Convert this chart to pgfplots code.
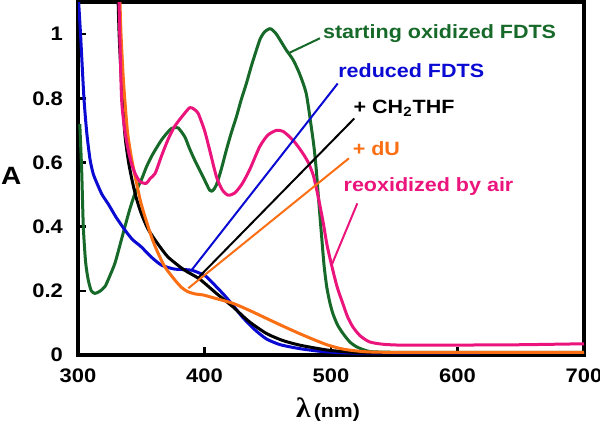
\documentclass[border=0pt]{standalone}
\usepackage{pgfplots}
\pgfplotsset{compat=1.18}
\usepackage{fontspec}
\setmainfont{Liberation Sans}[FakeStretch=1.12]
\newfontfamily\serifgr{Liberation Serif}[FakeStretch=1.05]
\definecolor{cgreen}{RGB}{22,105,40}
\definecolor{cblue}{RGB}{10,10,210}
\definecolor{corange}{RGB}{250,110,20}
\definecolor{cpink}{RGB}{235,20,125}
\begin{document}
\begin{tikzpicture}
\path[use as bounding box] (0,0) rectangle (300pt,212pt);
\begin{axis}[
  at={(39pt,34.5pt)}, anchor=south west,
  scale only axis, width=253pt, height=176.5pt,
  xmin=300, xmax=700, ymin=0, ymax=1.1,
  xtick={300,400,500,600,700},
  ytick={0,0.2,0.4,0.6,0.8,1},
  tick pos=left, tick align=inside,
  major tick length=4pt,
  tick style={line width=1.3pt, black},
  axis line style={line width=1.6pt},
  /pgf/number format/assume math mode=true,
  ticklabel style={font=\bfseries\fontsize{9.8}{11}\selectfont},
  xticklabel style={yshift=-3.5pt},
  yticklabel style={xshift=-4pt},
  xlabel={{\serifgr\bfseries\fontsize{14}{14}\selectfont λ}\,{\bfseries\fontsize{9.5}{10}\selectfont(nm)}},
  xlabel style={at={(axis description cs:0.494,-0.178)}, anchor=base, inner sep=0pt},
  ylabel={\bfseries\fontsize{12.5}{12.5}\selectfont A},
  ylabel style={at={(axis description cs:-0.132,0.507)}, anchor=center, rotate=-90},
  every axis plot/.append style={line width=1.5pt, line join=round},
]
% starting oxidized FDTS
\addplot[cgreen, smooth, tension=0.4] coordinates {
(301.4,0.72) (302.9,0.576) (304.2,0.40) (306,0.29) (308.1,0.234) (310.5,0.2) (313.4,0.192) (317,0.198) (321.3,0.213) (325,0.245) (329.2,0.286) (333,0.34) (337.1,0.40) (341,0.455) (345,0.503) (350,0.545) (354,0.585) (358,0.618) (362,0.645) (366,0.67) (370,0.69) (374,0.706) (379,0.708) (384.4,0.68) (388,0.645) (392.3,0.607) (398.9,0.555) (404,0.514) (406.5,0.512) (409.4,0.53) (413,0.575) (417.3,0.639) (421,0.69) (425.2,0.742) (429,0.795) (433.1,0.846) (437,0.9) (441,0.95) (444,0.985) (447.5,1.007) (451.5,1.017) (454,1.012) (456.8,1.0) (460,0.98) (464.7,0.95) (470,0.92) (475,0.878) (480.4,0.815) (484.4,0.711) (486.5,0.65) (488.3,0.58) (490.5,0.47) (492.6,0.369) (494.5,0.28) (496.6,0.213) (499,0.165) (501.4,0.13) (505,0.095) (509.3,0.068) (515,0.04) (520,0.026) (526,0.016) (533,0.01) (560,0.008) (620,0.008) (700,0.008)
};
% reduced FDTS
\addplot[cblue, smooth, tension=0.4] coordinates {
(300.2,1.12) (302,1.0) (304.7,0.8) (307,0.69) (309.5,0.61) (312,0.565) (315,0.535) (319,0.5) (324,0.47) (330,0.43) (337,0.39) (343,0.36) (350,0.337) (358,0.305) (366,0.28) (376,0.268) (385,0.266) (390,0.264) (395,0.257) (401.5,0.244) (410,0.21) (416,0.185) (422.5,0.155) (430,0.118) (440,0.078) (449,0.05) (460,0.032) (475,0.02) (490,0.012) (500,0.009) (520,0.006) (600,0.005) (700,0.005)
};
% + CH2THF
\addplot[black, smooth, tension=0.4] coordinates {
(331.4,1.15) (332.5,1.0) (334,0.88) (337,0.69) (340,0.6) (343,0.54) (346,0.49) (350,0.441) (355,0.395) (361,0.358) (371,0.306) (384,0.265) (396,0.237) (410,0.19) (422.5,0.15) (435,0.105) (449,0.067) (462,0.045) (475,0.031) (490,0.02) (500,0.014) (520,0.008) (550,0.006) (700,0.005)
};
% + dU
\addplot[corange, smooth, tension=0.4] coordinates {
(332.8,1.15) (334,1.0) (336,0.85) (339,0.7) (342,0.62) (345,0.56) (350,0.47) (358,0.369) (363,0.32) (368.6,0.275) (376.5,0.234) (382,0.21) (387,0.197) (393,0.19) (399,0.187) (410,0.175) (422.5,0.161) (435,0.14) (449,0.114) (462,0.09) (475,0.067) (487,0.047) (497.5,0.031) (510,0.018) (528,0.01) (560,0.008) (700,0.008)
};
% reoxidized by air
\addplot[cpink, smooth, tension=0.4] coordinates {
(332.2,1.15) (333,1.0) (334.5,0.794) (337,0.7) (339.7,0.639) (342,0.6) (345,0.567) (349,0.54) (354,0.535) (357,0.55) (361,0.566) (366,0.62) (371,0.67) (376,0.71) (382,0.742) (388.4,0.771) (392,0.765) (395,0.753) (400,0.70) (404,0.64) (409.4,0.556) (414,0.515) (418.6,0.498) (424,0.505) (430,0.535) (436,0.58) (443.6,0.649) (450,0.685) (456.8,0.70) (462,0.697) (467.3,0.68) (472,0.66) (477.8,0.628) (482,0.6) (486,0.56) (489.5,0.5) (493.5,0.42) (497,0.34) (501.4,0.265) (505,0.21) (509.3,0.161) (513,0.12) (517.2,0.088) (523,0.06) (530.4,0.041) (540,0.034) (554,0.031) (600,0.031) (650,0.032) (700,0.035)
};
% callout lines
\draw[cgreen, line width=1pt] (axis cs:466.2,0.94) -- (axis cs:491.3,0.987);
\draw[cblue, line width=1pt] (axis cs:389.9,0.265) -- (axis cs:505.3,0.846);
\draw[black, line width=1pt] (axis cs:394.1,0.237) -- (axis cs:518.4,0.737);
\draw[corange, line width=1pt] (axis cs:387.2,0.208) -- (axis cs:514.2,0.613);
\draw[cpink, line width=1pt] (axis cs:500.5,0.28) -- (axis cs:520.8,0.4725);
% labels
\begin{scope}[every node/.style={anchor=base west, inner sep=0pt, font=\bfseries\fontsize{9.6}{11}\selectfont}]
\node[text=cgreen] at (axis cs:493.4,0.9875) {starting oxidized FDTS};
\node[text=cblue] at (axis cs:505.5,0.865) {reduced FDTS};
\node[text=black] at (axis cs:517.6,0.753) {+ CH\textsubscript{2}THF};
\node[text=corange] at (axis cs:516.9,0.623) {+ dU};
\node[text=cpink] at (axis cs:509.7,0.509) {reoxidized by air};
\end{scope}
\end{axis}
\end{tikzpicture}
\end{document}
